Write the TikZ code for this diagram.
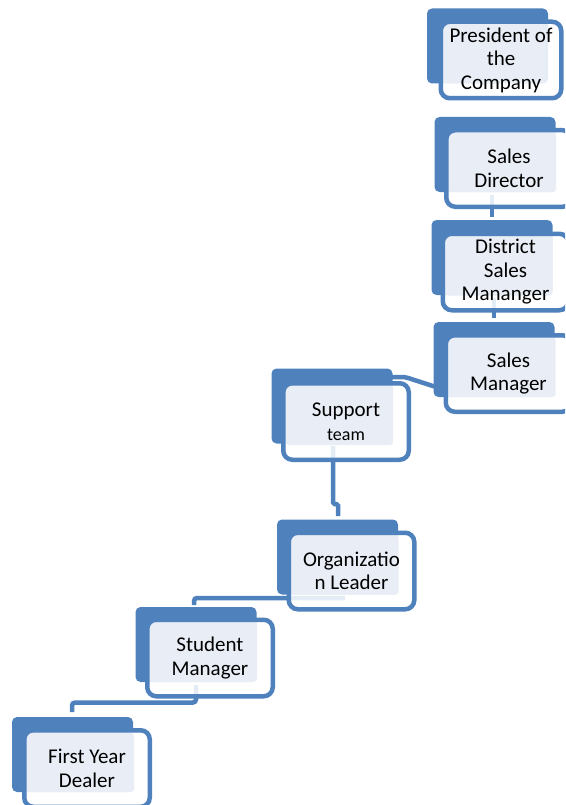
\documentclass[tikz,border=0pt]{standalone}
\usepackage{fontspec}
\setmainfont{Carlito}
\usepackage{tikz}

\definecolor{accent}{HTML}{4F81BD}
\definecolor{tint}{HTML}{E9EDF5}

\begin{document}
\begin{tikzpicture}[x=1pt,y=-1pt,
    back/.style={fill=accent, rounded corners=5pt, minimum width=121pt, minimum height=75pt, inner sep=0pt},
    front/.style={draw=accent, line width=4.5pt, fill=white, fill opacity=0.85, text opacity=1,
        rounded corners=9pt, minimum width=125.5pt, minimum height=76.5pt, inner sep=0pt,
        align=center, font=\fontsize{21}{23.5}\selectfont,
        path picture={\fill[tint, fill opacity=1, rounded corners=3pt]
            ([shift={(2.5,2.5)}]path picture bounding box.north west) rectangle
            ([shift={(-15.75,-14.75)}]path picture bounding box.south east);}},
    link/.style={draw=accent, line width=4.5pt, rounded corners=3pt}]
    \clip (0,0) rectangle (565,805);

    % ends of the links
    \coordinate (dir-out) at (492,195);
    \coordinate (dist-in) at (492,217);
    \coordinate (dist-out) at (494,298);
    \coordinate (smgr-in) at (494,318);
    \coordinate (smgr-out) at (436,387);
    \coordinate (sup-in) at (388,377);
    \coordinate (sup-out) at (333,446);
    \coordinate (org-in) at (338,516);
    \coordinate (org-out) at (345,598);
    \coordinate (stu-in) at (194,605);
    \coordinate (stu-out) at (196,685);
    \coordinate (fyd-in) at (72,712);

    \draw[link] (dir-out) -- (dist-in);
    \draw[link] (dist-out) -- (smgr-in);
    \draw[link] (smgr-out) -- (405,377) -- (sup-in);
    \draw[link, rounded corners=1.5pt] (sup-out) -- (333,504) -- (338,504) -- (org-in);
    \draw[link] (org-out) -- (194,598) -- (stu-in);
    \draw[link] (stu-out) -- (196,702.5) -- (72,702.5) -- (fyd-in);

    % top of the ladder
    \node[back] (pres) at (487.5,46) {};
    \node[front, minimum width=120.5pt] (pres-f) at (501,60) {President of\\the\\Company};

    \node[back] (dir) at (495,154.5) {};
    \node[front] (dir-f) at (509,168.5) {Sales\\Director};

    \node[back] (dist) at (492,257.5) {};
    \node[front] (dist-f) at (505.5,272) {District\\Sales\\Mananger};

    \node[back] (smgr) at (494,359.5) {};
    \node[front] (smgr-f) at (508.5,373.5) {Sales\\Manager};

    % steps going down to the left
    \node[back] (sup) at (332,406) {};
    \node[front] (sup-f) at (346,421.5) {Support\\{\fontsize{18}{20}\selectfont team}};

    \node[back] (org) at (337.5,557) {};
    \node[front] (org-f) at (351.5,571) {Organizatio\\n Leader};

    \node[back] (stu) at (196,644.5) {};
    \node[front] (stu-f) at (210,658) {Student\\Manager};

    \node[back] (fyd) at (72.5,754.5) {};
    \node[front] (fyd-f) at (87,768.5) {First Year\\Dealer};

\end{tikzpicture}
\end{document}
